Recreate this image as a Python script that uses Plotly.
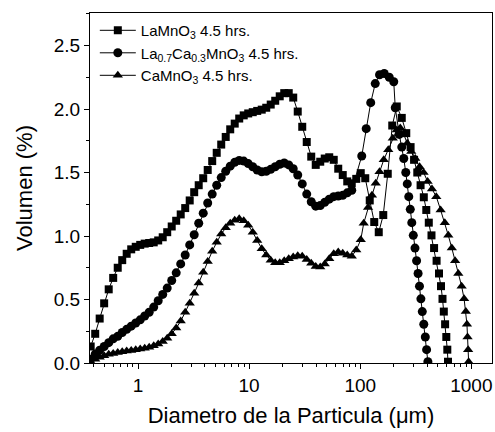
import plotly.graph_objects as go

# Particle size channels (um) and volume fractions (%) for each powder
la_x = [0.375, 0.412, 0.452, 0.496, 0.545, 0.598, 0.657, 0.721, 0.791, 0.869,
        0.954, 1.047, 1.149, 1.261, 1.385, 1.520, 1.669, 1.832, 2.011, 2.207,
        2.423, 2.660, 2.920, 3.205, 3.519, 3.863, 4.240, 4.655, 5.110, 5.610,
        6.158, 6.760, 7.421, 8.147, 8.943, 9.817, 10.78, 11.83, 12.99, 14.26,
        15.65, 17.18, 18.86, 20.71, 22.73, 24.95, 27.39, 30.07, 33.01, 36.24,
        39.78, 43.67, 47.94, 52.62, 57.77, 63.41, 69.61, 76.42, 83.89, 92.09,
        101.1, 111.0, 121.8, 133.7, 146.8, 161.2, 176.9, 194.2, 213.2, 236.5,
        259.7, 284.0, 305.3, 326.2, 349.3, 373.4, 393.2, 414.1, 437.9, 462.2,
        486.8, 511.7, 533.3, 550.2, 565.3, 580.7, 595.4, 607.8, 616.7]
la_y = [0.13, 0.23, 0.35, 0.47, 0.58, 0.67, 0.75, 0.81, 0.86, 0.895,
        0.915, 0.93, 0.94, 0.945, 0.95, 0.965, 0.99, 1.03, 1.075, 1.12,
        1.17, 1.22, 1.28, 1.345, 1.40, 1.455, 1.52, 1.59, 1.655, 1.72,
        1.78, 1.84, 1.885, 1.925, 1.95, 1.965, 1.975, 1.985, 1.995, 2.01,
        2.035, 2.065, 2.10, 2.125, 2.125, 2.09, 1.98, 1.86, 1.74, 1.625,
        1.56, 1.585, 1.61, 1.62, 1.60, 1.53, 1.48, 1.43, 1.415, 1.45,
        1.495, 1.455, 1.28, 1.11, 1.03, 1.165, 1.49, 1.87, 2.02, 1.93,
        1.81, 1.70, 1.60, 1.50, 1.40, 1.305, 1.205, 1.105, 1.005, 0.905,
        0.805, 0.705, 0.605, 0.505, 0.405, 0.305, 0.205, 0.105, 0.01]

lca_x = [0.375, 0.412, 0.452, 0.496, 0.545, 0.598, 0.657, 0.721, 0.791, 0.869,
         0.954, 1.047, 1.149, 1.261, 1.385, 1.520, 1.669, 1.832, 2.011, 2.207,
         2.423, 2.660, 2.920, 3.205, 3.519, 3.863, 4.240, 4.655, 5.110, 5.610,
         6.158, 6.760, 7.421, 8.147, 8.943, 9.817, 10.78, 11.83, 12.99, 14.26,
         15.65, 17.18, 18.86, 20.71, 22.73, 24.95, 27.39, 30.07, 33.01, 36.24,
         39.78, 43.67, 47.94, 52.62, 57.77, 63.41, 69.61, 76.42, 83.89,
         103.2, 113.2, 124.3, 136.5, 149.2, 164.5, 182.5, 200.3, 206.7, 224.5,
         236.5, 246.5, 257.0, 265.1, 273.5, 282.2, 291.1, 300.3, 311.1, 321.6,
         331.7, 341.5, 351.6, 361.9, 373.4, 385.2, 395.7, 406.4]
lca_y = [0.03, 0.07, 0.10, 0.13, 0.16, 0.19, 0.21, 0.24, 0.265, 0.29,
         0.315, 0.34, 0.37, 0.40, 0.44, 0.49, 0.54, 0.59, 0.65, 0.71,
         0.78, 0.85, 0.93, 1.01, 1.10, 1.18, 1.26, 1.33, 1.40, 1.46,
         1.51, 1.55, 1.58, 1.595, 1.59, 1.57, 1.545, 1.52, 1.505, 1.51,
         1.525, 1.545, 1.565, 1.575, 1.56, 1.53, 1.48, 1.41, 1.33, 1.27,
         1.235, 1.24, 1.265, 1.29, 1.31, 1.315, 1.32, 1.34, 1.36,
         1.63, 1.845, 2.05, 2.20, 2.27, 2.28, 2.25, 2.215, 2.01, 1.80,
         1.70, 1.61, 1.50, 1.41, 1.31, 1.21, 1.105, 1.005, 0.905, 0.805,
         0.705, 0.605, 0.505, 0.405, 0.305, 0.205, 0.105, 0.01]

ca_x = [0.375, 0.412, 0.452, 0.496, 0.545, 0.598, 0.657, 0.721, 0.791, 0.869,
        0.954, 1.047, 1.149, 1.261, 1.385, 1.520, 1.669, 1.832, 2.011, 2.207,
        2.423, 2.660, 2.920, 3.205, 3.519, 3.863, 4.240, 4.655, 5.110, 5.610,
        6.158, 6.760, 7.421, 8.147, 8.943, 9.817, 10.78, 11.83, 12.99, 14.26,
        15.65, 17.18, 18.86, 20.71, 22.73, 24.95, 27.39, 30.07, 33.01, 36.24,
        39.78, 43.67, 47.94, 52.62, 57.77, 63.41, 69.61, 76.42, 83.89, 92.09,
        101.1, 107.5, 117.6, 127.5, 137.9, 149.2, 162.8, 178.8, 196.3, 213.3,
        229.3, 246.5, 265.1, 288.1, 313.0, 342.2, 371.8, 404.0, 442.4, 483.7,
        529.0, 577.0, 620.6, 667.3, 714.6, 763.5, 817.6, 861.2, 892.3, 912.9,
        924.4, 936.0, 945.7]
ca_y = [0.01, 0.03, 0.045, 0.058, 0.068, 0.075, 0.082, 0.088, 0.094, 0.099,
        0.104, 0.11, 0.117, 0.125, 0.135, 0.15, 0.17, 0.195, 0.23, 0.275,
        0.33, 0.40, 0.47, 0.55, 0.63, 0.715, 0.80, 0.88, 0.95, 1.015,
        1.065, 1.10, 1.125, 1.135, 1.12, 1.085, 1.03, 0.965, 0.90, 0.85,
        0.81, 0.79, 0.79, 0.805, 0.82, 0.835, 0.845, 0.84, 0.815, 0.785,
        0.76, 0.755, 0.78, 0.82, 0.86, 0.875, 0.865, 0.85, 0.84, 0.89,
        0.97, 1.10, 1.225, 1.32, 1.415, 1.506, 1.60, 1.68, 1.77, 1.835,
        1.85, 1.80, 1.73, 1.665, 1.61, 1.545, 1.50, 1.43, 1.37, 1.31,
        1.205, 1.105, 1.005, 0.905, 0.805, 0.705, 0.605, 0.505, 0.405, 0.305,
        0.205, 0.105, 0.01]

names = ["LaMnO<sub>3</sub> 4.5 hrs.",
         "La<sub>0.7</sub>Ca<sub>0.3</sub>MnO<sub>3</sub> 4.5 hrs.",
         "CaMnO<sub>3</sub> 4.5 hrs."]

y_ticks = [0.0, 0.5, 1.0, 1.5, 2.0, 2.5]
x_ticks = [1, 10, 100, 1000]

FONT = "Arial, Liberation Sans, sans-serif"

fig = go.Figure()
series = [(la_x, la_y, "square", 8), (lca_x, lca_y, "circle", 9), (ca_x, ca_y, "triangle-up", 9)]
for (xs, ys, sym, sz), nm in zip(series, names):
    fig.add_trace(go.Scatter(
        x=xs, y=ys, name=nm, mode="lines+markers",
        line=dict(color="black", width=1),
        marker=dict(symbol=sym, size=sz, color="black", line=dict(width=0)),
    ))

axis_common = dict(
    showline=True, linecolor="black", linewidth=1.2, mirror=True,
    ticks="outside", ticklen=5, tickwidth=1, tickcolor="black",
    showgrid=False, zeroline=False,
    tickfont=dict(family=FONT, size=19, color="black"),
    title_font=dict(family=FONT, size=22, color="black"),
)

fig.update_xaxes(
    type="log", range=[-0.432, 3.186],
    tickvals=x_ticks, ticktext=[str(v) for v in x_ticks],
    minor=dict(ticks="outside", ticklen=3, tickwidth=1, tickcolor="black",
               tickvals=[m * 10 ** e for e in range(-1, 4) for m in range(2, 10)]),
    title_text="Diametro de la Particula (μm)", title_standoff=12,
    **axis_common,
)
fig.update_yaxes(
    range=[0, 2.756], tickvals=y_ticks, ticktext=[f"{v:.1f}" for v in y_ticks],
    minor=dict(ticks="outside", ticklen=3, tickwidth=1, tickcolor="black", dtick=0.25),
    title_text="Volumen (%)", title_standoff=14,
    **axis_common,
)

fig.update_layout(
    width=495, height=432,
    margin=dict(l=90, r=3, t=13, b=69),
    paper_bgcolor="white", plot_bgcolor="white",
    font=dict(family=FONT, color="black"),
    showlegend=True,
    legend=dict(x=0.012, y=0.997, xanchor="left", yanchor="top",
                bgcolor="rgba(0,0,0,0)", borderwidth=0,
                font=dict(family=FONT, size=15, color="black"),
                itemwidth=36, tracegroupgap=0),
)

fig.write_html("out.html")
